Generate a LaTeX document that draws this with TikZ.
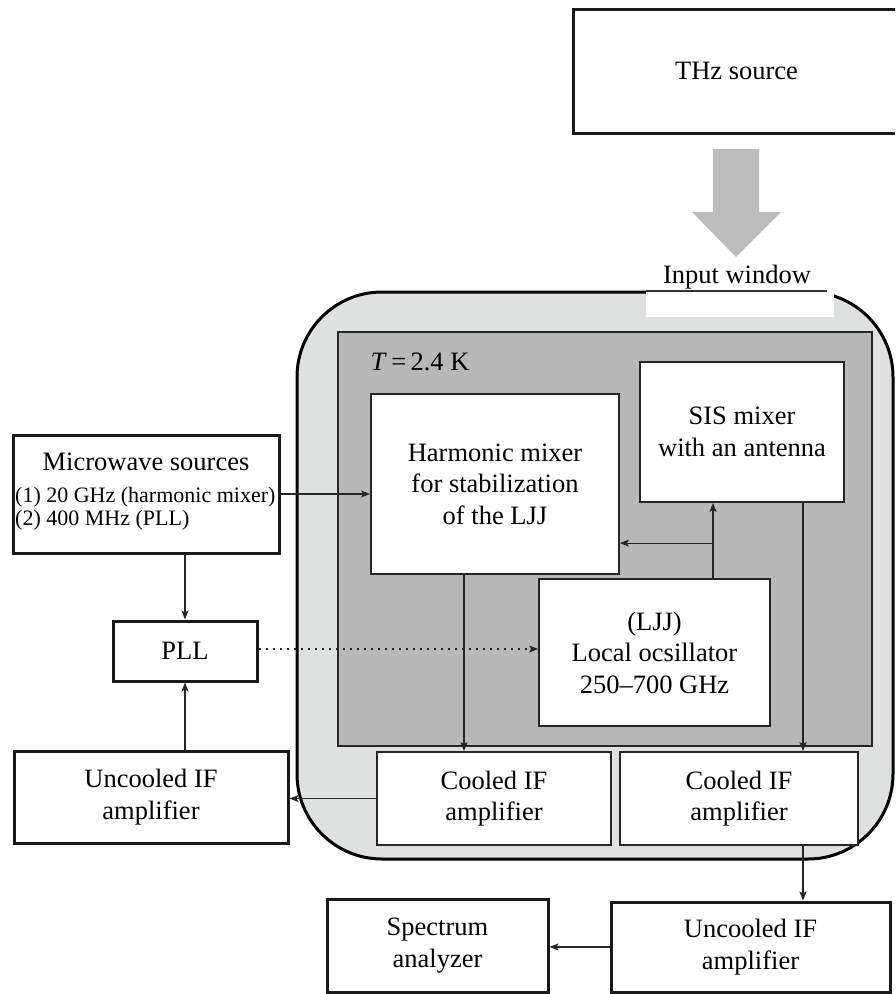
\documentclass[tikz,border=0pt]{standalone}
\usepackage{fontspec}
\setmainfont{Liberation Serif}
\usetikzlibrary{arrows.meta,calc}
\definecolor{outerfill}{HTML}{DFE0E0}
\definecolor{darkfill}{HTML}{B8B8B8}
\definecolor{arrowgray}{HTML}{BDBDBD}
\begin{document}
\begin{tikzpicture}[x=1pt,y=-1pt,
  txt/.style={font=\fontsize{26.5}{31.5}\selectfont, align=center},
  smalltxt/.style={font=\fontsize{22}{24}\selectfont},
  obox/.style={draw=black!90, line width=3pt, fill=white, inner sep=0pt, txt},
  ibox/.style={draw=black!85, line width=1.8pt, fill=white, inner sep=0pt, txt},
  arr/.style={line width=1.2pt, draw=black!85, -{Stealth[length=9pt,width=7pt,inset=2pt]}},
  dotarr/.style={arr, dash pattern=on 2.5pt off 4.5pt}
]
\useasboundingbox (0,0) rectangle (895,994);
\clip (0,0) rectangle (895,994);

% cryostat outer and cold plate
\draw[line width=3pt, fill=outerfill, rounded corners=85pt] (297,292) rectangle (893,859);
\fill[white] (646,289) rectangle (834,317);
\draw[line width=1.2pt, draw=black!80] (646,291) -- (827,291);
\draw[line width=2pt, fill=darkfill, draw=black!85] (338,332) rectangle (872,746);

% THz beam arrow
\fill[arrowgray] (713,149) -- (759,149) -- (759,212) -- (781,212) -- (736,257) -- (692,212) -- (713,212) -- cycle;

% texts
\node[txt, anchor=base] (win) at (737,283) {Input window};
\node[txt, anchor=base west] (temp) at (367,370) {\textit{T}\,=\,2.4 K};

% boxes
\node[obox, minimum width=327pt, minimum height=124pt] (thz) at (736.5,71) {THz source};
\node[obox, minimum width=266pt, minimum height=118pt] (mw) at (146,494) {};
\node[txt, anchor=base] (mwt) at (146,470) {Microwave sources};
\node[smalltxt, anchor=base west, inner sep=0pt] (mw1) at (15,502) {(1) 20 GHz (harmonic mixer)};
\node[smalltxt, anchor=base west, inner sep=0pt] (mw2) at (15,525) {(2) 400 MHz (PLL)};
\node[obox, minimum width=144pt, minimum height=60pt] (pll) at (185,651) {PLL};
\node[obox, minimum width=274pt, minimum height=92pt] (u1) at (151,797) {Uncooled IF\\amplifier};
\node[ibox, minimum width=248pt, minimum height=180pt] (hm) at (495,484) {Harmonic mixer\\for stabilization\\of the LJJ};
\node[ibox, minimum width=204pt, minimum height=140pt] (sis) at (742,432) {SIS mixer\\with an antenna};
\node[ibox, minimum width=231pt, minimum height=147pt] (lo) at (654.5,652.5) {(LJJ)\\Local ocsillator\\250--700 GHz};
\node[ibox, minimum width=234pt, minimum height=93pt] (c1) at (494,798.5) {Cooled IF\\amplifier};
\node[ibox, minimum width=238pt, minimum height=93pt] (c2) at (739,798.5) {Cooled IF\\amplifier};
\node[obox, minimum width=221pt, minimum height=93pt] (sa) at (437.5,945.5) {Spectrum\\analyzer};
\node[obox, minimum width=279pt, minimum height=90pt] (u2) at (750.5,947) {Uncooled IF\\amplifier};

% connectors
\draw[arr] (mw.east) -- (mw.east -| hm.west);
\draw[arr] (mw.south -| pll.north) -- (pll.north);
\draw[arr] (pll.south |- u1.north) -- (pll.south);
\draw[dotarr] (pll.east |- 0,649) -- (lo.west |- 0,649);
\draw[arr] (c1.west) -- (c1.west -| u1.east);

\coordinate (hx) at ($(hm.south)+(-31,0)$);
\draw[arr] (hx) -- (hx |- c1.north);

\coordinate (lx) at ($(lo.north)+(58.5,0)$);
\draw[arr] (lx) -- (lx |- sis.south);
\coordinate (jn) at ($(lx)+(0,-35)$);
\draw[arr] (jn) -- (jn -| hm.east);

\coordinate (sx) at ($(sis.south)+(61,0)$);
\draw[arr] (sx) -- (sx |- c2.north);
\draw[arr] (sx |- c2.south) -- (sx |- u2.north);
\draw[arr] (u2.west) -- (u2.west -| sa.east);
\end{tikzpicture}
\end{document}
